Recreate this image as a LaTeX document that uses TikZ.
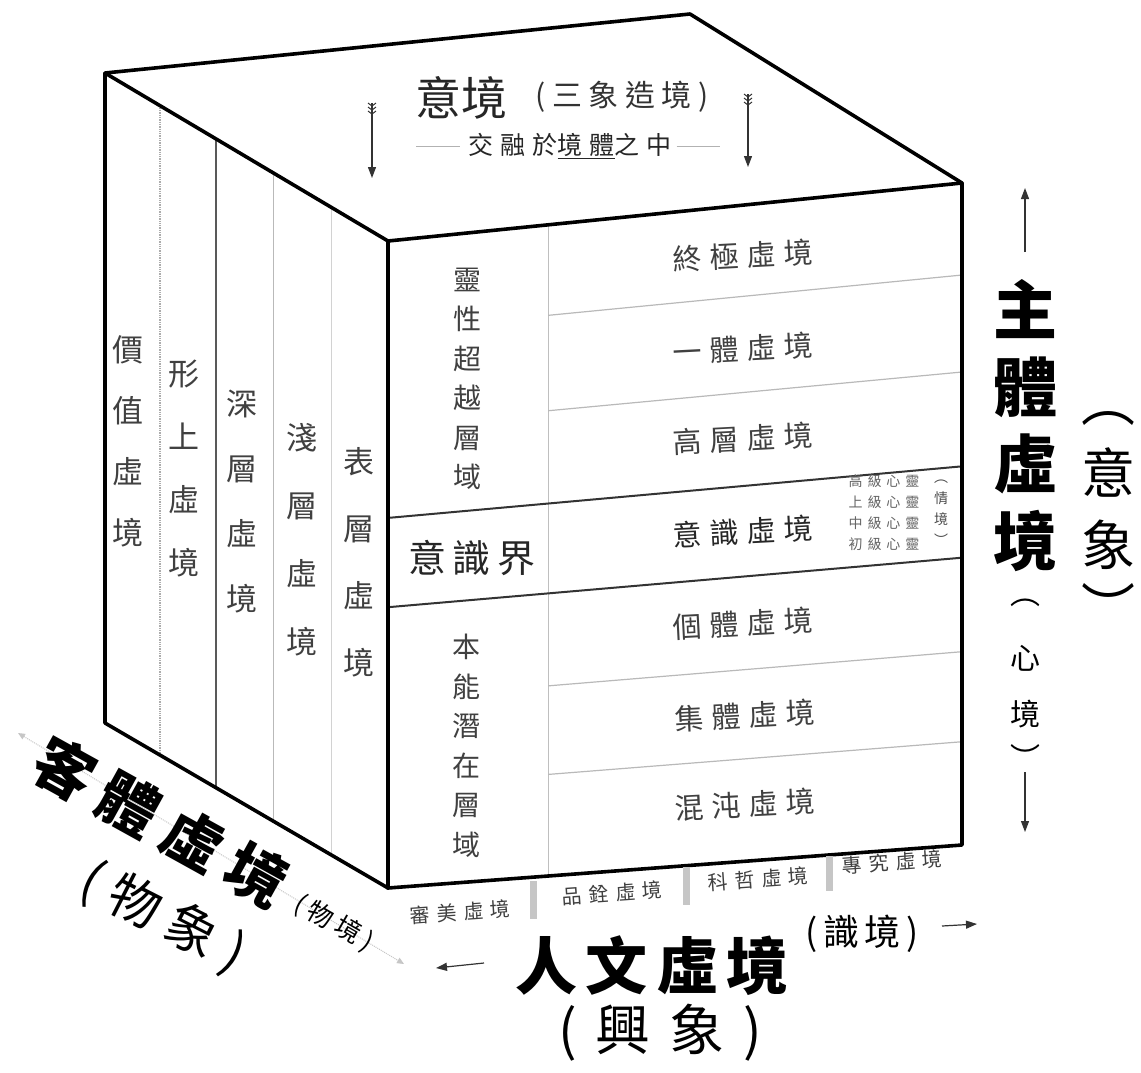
\documentclass[tikz,border=0pt]{standalone}
\usepackage{fontspec}
\usetikzlibrary{calc,arrows.meta}
\newfontfamily\cjk{Noto Sans CJK TC}
\newcommand\fs[2]{\cjk\addfontfeature{LetterSpace=#2}\fontsize{#1}{#1}\selectfont}
\newcommand\fsb[2]{\cjk\bfseries\addfontfeature{LetterSpace=#2}\fontsize{#1}{#1}\selectfont}
\newcommand\vf[2]{\cjk\fontsize{#1}{#2}\selectfont}
\newcommand\vfb[2]{\cjk\bfseries\fontsize{#1}{#2}\selectfont}
\tikzset{
  edge/.style={line width=3.6pt, line join=round, line cap=round},
  cdot/.style={gray!65, line width=1.3pt, densely dotted},
  cdark/.style={black!65, line width=1.3pt},
  cmid/.style={gray!55, line width=1pt},
  clight/.style={gray!35, line width=1pt},
  divider/.style={gray!50, line width=1.3pt},
  rowline/.style={gray!55, line width=1.2pt},
  band/.style={black!80, line width=2pt},
  bar/.style={gray!45, line width=7pt},
  arr/.style={black!80, line width=1.2pt, -{Triangle[length=11pt,width=8pt]}},
  fl/.style={black!80, line width=1pt},
  thinline/.style={gray!60, line width=1pt},
  axis/.style={gray!45, line width=1pt, densely dotted, {Triangle[length=7pt,width=6pt]}-{Triangle[length=7pt,width=6pt]}},
  ltxt/.style={inner sep=0pt, align=center, text=black!75},
  ftxt/.style={inner sep=0pt, text=black!75, rotate=3},
  big/.style={inner sep=0pt, text=black},
}
\begin{document}
\begin{tikzpicture}[x=1pt,y=-1pt]
\useasboundingbox[fill=white] (0,0) rectangle (1141,1072);
% cube corners
\coordinate (A) at (105,73);
\coordinate (B) at (690,14);
\coordinate (C) at (962,183);
\coordinate (D) at (388,241);
\coordinate (E) at (388,888);
\coordinate (F) at (962,845);
\coordinate (G) at (105,723);
% left face columns
\foreach \t/\s in {0.194/cdot,0.392/cdark,0.594/cmid,0.802/clight}{
  \draw[\s] ($(A)!\t!(D)$) -- ($(G)!\t!(E)$);
}
% front face
\draw[divider] ($(D)!0.279!(C)$) -- ($(E)!0.279!(F)$);
\foreach \s in {0.139,0.2855,0.708,0.844}{
  \coordinate (lp) at ($(D)!\s!(E)$);
  \coordinate (rp) at ($(C)!\s!(F)$);
  \draw[rowline] ($(lp)!0.279!(rp)$) -- (rp);
}
\draw[band] ($(D)!0.428!(E)$) -- ($(C)!0.428!(F)$);
\draw[band] ($(D)!0.566!(E)$) -- ($(C)!0.566!(F)$);
% outline
\draw[edge] (A) -- (B) -- (C) -- (F) -- (E) -- (G) -- cycle;
\draw[edge] (A) -- (D) -- (C);
\draw[edge] (D) -- (E);
% bottom bars
\coordinate (b1t) at (533,881); \coordinate (b1b) at (533,919);
\coordinate (b2t) at (686,867); \coordinate (b2b) at (686,905);
\coordinate (b3t) at (829,856); \coordinate (b3b) at (829,891);
\draw[bar] (b1t) -- (b1b);
\draw[bar] (b2t) -- (b2b);
\draw[bar] (b3t) -- (b3b);

% top face text
\node[big, font=\fs{46}{0}, text=black!85] (yijing) at (461,98) {意境};
\node[big, font=\fs{30}{22}, text=black!80] (sanxiang) at (622,97) {(三象造境)};
\node[big, font=\fs{25}{28}, text=black!85] (jiaorong) at (570,146) {交融於\underline{境體}之中};
\draw[thinline] ([xshift=-52pt]jiaorong.west) -- ([xshift=-8pt]jiaorong.west);
\draw[thinline] ([xshift=5pt]jiaorong.east) -- ([xshift=48pt]jiaorong.east);
% top arrows
\coordinate (t1a) at (372,103); \coordinate (t1b) at (372,178);
\coordinate (t2a) at (748,94);  \coordinate (t2b) at (748,167);
\draw[arr] (t1a) -- (t1b);
\draw[arr] (t2a) -- (t2b);
\foreach \p in {t1a,t2a}{
  \foreach \k in {0,1,2}{
    \draw[fl] ($(\p)+(-4,\k*4)$) -- ($(\p)+(0,\k*4+3)$) -- ($(\p)+(4,\k*4)$);
  }
}

% left face text
\node[ltxt, font=\vf{31}{61}] (v1) at (128,441) {價\\值\\虛\\境};
\node[ltxt, font=\vf{31}{63}] (v2) at (184,469) {形\\上\\虛\\境};
\node[ltxt, font=\vf{31}{65}] (v3) at (242,502) {深\\層\\虛\\境};
\node[ltxt, font=\vf{31}{68}] (v4) at (302,540) {淺\\層\\虛\\境};
\node[ltxt, font=\vf{31}{67}] (v5) at (359,562) {表\\層\\虛\\境};

% front left column
\node[ltxt, font=\vf{28}{39.5}] (lingxing) at (467,379) {靈\\性\\超\\越\\層\\域};
\node[ltxt, font=\fs{38}{18}, text=black!85] (yishijie) at (472,558) {意識界};
\node[ltxt, font=\vf{28}{39.5}] (benneng) at (466,746) {本\\能\\潛\\在\\層\\域};

% front right column
\node[ftxt, font=\fs{29}{27}] (r1) at (743,256) {終極虛境};
\node[ftxt, font=\fs{29}{27}] (r2) at (743,349) {一體虛境};
\node[ftxt, font=\fs{29}{27}] (r3) at (743,439) {高層虛境};
\node[ftxt, font=\fs{29}{27}, text=black!85] (r4) at (743,532) {意識虛境};
\node[ftxt, font=\fs{29}{27}] (r5) at (743,624) {個體虛境};
\node[ftxt, font=\fs{29}{27}] (r6) at (745,716) {集體虛境};
\node[ftxt, font=\fs{29}{27}] (r7) at (745,805) {混沌虛境};
\node[ltxt, font=\cjk\addfontfeature{LetterSpace=35}\fontsize{14}{21}\selectfont, text=black!60] (xinling) at (884,513) {高級心靈\\上級心靈\\中級心靈\\初級心靈};
\node[ltxt, font=\vf{14}{21}, text=black!70] (qingjing) at (941,513) {︵\\情\\境\\︶};

% bottom labels under front
\node[ftxt, font=\fs{20}{35}, rotate=1] (d1) at (460,912) {審美虛境};
\node[ftxt, font=\fs{20}{35}, rotate=1] (d2) at (612,893) {品銓虛境};
\node[ftxt, font=\fs{20}{35}, rotate=1] (d3) at (758,879) {科哲虛境};
\node[ftxt, font=\fs{20}{35}, rotate=1] (d4) at (892,862) {專究虛境};

% right labels
\coordinate (ua) at (1025,252); \coordinate (ub) at (1025,188);
\draw[arr] (ua) -- (ub);
\node[big, align=center, font=\vfb{64}{77}] (zhuti) at (1025,426) {主\\體\\虛\\境};
\node[big, font=\vf{54}{54}] (yx1) at (1108,418) {︵};
\node[big, font=\vf{54}{54}] (yx2) at (1108,472) {意};
\node[big, font=\vf{54}{54}] (yx3) at (1108,545) {象};
\node[big, font=\vf{54}{54}] (yx4) at (1108,606) {︶};
\node[big, font=\vf{30}{30}] (xj1) at (1025,603) {︵};
\node[big, font=\vf{30}{30}] (xj2) at (1025,658) {心};
\node[big, font=\vf{30}{30}] (xj3) at (1025,714) {境};
\node[big, font=\vf{30}{30}] (xj4) at (1025,757) {︶};
\coordinate (da) at (1025,772); \coordinate (db) at (1025,832);
\draw[arr] (da) -- (db);

% bottom labels
\node[big, font=\fsb{62}{13}] (renwen) at (652,966) {人文虛境};
\node[big, font=\fs{36}{16}] (shijing) at (862,934) {(識境)};
\coordinate (sa) at (942,926); \coordinate (sb) at (977,924);
\draw[arr] (sa) -- (sb);
\node[big, font=\fs{55}{34}] (xingxiang) at (660,1033) {(興象)};
\coordinate (la) at (484,963); \coordinate (lb) at (436,968);
\draw[arr] (la) -- (lb);

% left diagonal labels
\coordinate (ax1) at (18,733); \coordinate (ax2) at (404,964);
\draw[axis] (ax1) -- (ax2);
\node[big, font=\fsb{60}{22}, rotate=-29] (keti) at (161,822) {客體虛境};
\node[big, font=\fs{26}{20}, rotate=-30] (wujing) at (334,923) {(物境)};
\node[big, font=\fs{52}{24}, rotate=-27] (wuxiang) at (163,918) {(物象)};
\end{tikzpicture}
\end{document}
